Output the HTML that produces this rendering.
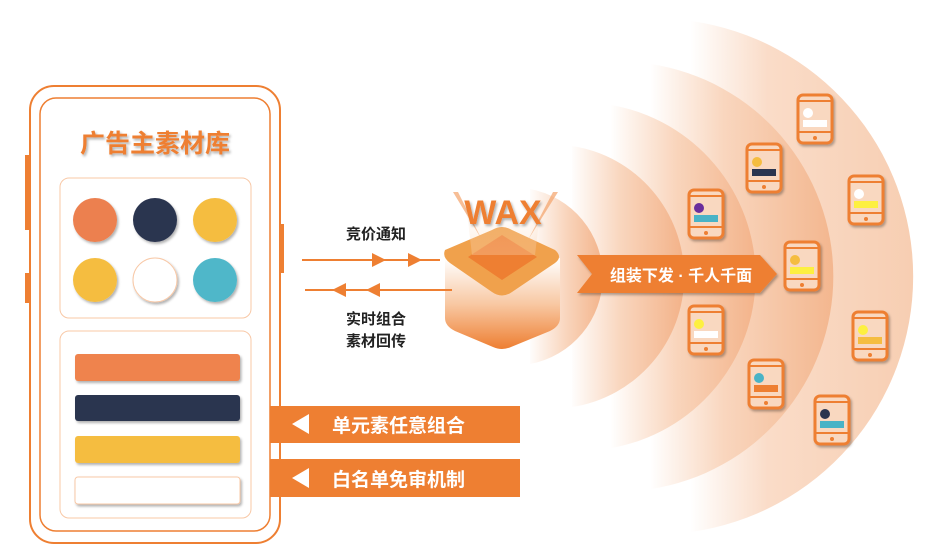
<!DOCTYPE html>
<html><head><meta charset="utf-8"><style>
html,body{margin:0;padding:0;background:#fff;}
svg{display:block;font-family:"Liberation Sans","Noto Sans CJK SC",sans-serif;}
</style></head><body>
<svg width="942" height="560" viewBox="0 0 942 560" xmlns="http://www.w3.org/2000/svg">
<defs>
<linearGradient id="g1" gradientUnits="userSpaceOnUse" x1="690" y1="0" x2="913" y2="0">
<stop offset="0" stop-color="#fff"/><stop offset="0.35" stop-color="#fadcc8"/><stop offset="1" stop-color="#f7ceb2"/></linearGradient>
<linearGradient id="g2" gradientUnits="userSpaceOnUse" x1="650" y1="0" x2="835" y2="0">
<stop offset="0" stop-color="#fff"/><stop offset="0.4" stop-color="#f9d6be"/><stop offset="1" stop-color="#f3b68e"/></linearGradient>
<linearGradient id="g3" gradientUnits="userSpaceOnUse" x1="610" y1="0" x2="757" y2="0">
<stop offset="0" stop-color="#fff"/><stop offset="0.45" stop-color="#f9d5bc"/><stop offset="1" stop-color="#f3b38a"/></linearGradient>
<linearGradient id="g4" gradientUnits="userSpaceOnUse" x1="570" y1="0" x2="682" y2="0">
<stop offset="0" stop-color="#fff"/><stop offset="0.45" stop-color="#f9d6be"/><stop offset="1" stop-color="#f3b38a"/></linearGradient>
<linearGradient id="g5" gradientUnits="userSpaceOnUse" x1="528" y1="0" x2="603" y2="0">
<stop offset="0" stop-color="#fff"/><stop offset="0.5" stop-color="#f9d6be"/><stop offset="1" stop-color="#f3b38a"/></linearGradient>
<linearGradient id="cube" x1="0" y1="0" x2="0" y2="1">
<stop offset="0" stop-color="#fff"/>
<stop offset="0.5" stop-color="#f8c9a4"/>
<stop offset="1" stop-color="#ee7f32"/>
</linearGradient>
<linearGradient id="beam" x1="0" y1="0" x2="0" y2="1">
<stop offset="0" stop-color="#fff" stop-opacity="0"/>
<stop offset="1" stop-color="#f7c79e" stop-opacity="0.8"/>
</linearGradient>
<filter id="sh" x="-20%" y="-20%" width="150%" height="150%"><feDropShadow dx="1.5" dy="2" stdDeviation="1.2" flood-color="#000" flood-opacity="0.3"/></filter>
<g id="ph">
<rect x="-17" y="-24" width="34" height="48" rx="5" fill="#f9d8c0" stroke="#ee7f32" stroke-width="3"/>
<line x1="-17" y1="-18" x2="17" y2="-18" stroke="#ee7f32" stroke-width="2"/>
<line x1="-17" y1="13" x2="17" y2="13" stroke="#ee7f32" stroke-width="2"/>
<circle cx="0" cy="19" r="2" fill="#ee7f32"/>
</g>
</defs>

<!-- wedges -->
<path d="M691 21 A258 258 0 0 1 691 532 Z" fill="url(#g1)"/>
<path d="M651 64 A215 215 0 0 1 651 489 Z" fill="url(#g2)"/>
<path d="M611 105 A174 174 0 0 1 611 448 Z" fill="url(#g3)"/>
<path d="M572 146 A132 132 0 0 1 572 407 Z" fill="url(#g4)"/>
<path d="M530 189 A89 89 0 0 1 530 364 Z" fill="url(#g5)"/>

<!-- phones -->
<g filter="url(#sh)">
<use href="#ph" x="815" y="119"/><circle cx="808" cy="113" r="5" fill="#fff"/><rect x="803" y="120" width="24" height="7" fill="#fff"/>
<use href="#ph" x="764" y="168"/><circle cx="757" cy="162" r="5" fill="#f5bd40"/><rect x="752" y="169" width="24" height="7" fill="#2c3450"/>
<use href="#ph" x="706" y="214"/><circle cx="699" cy="208" r="5" fill="#6b2f9c"/><rect x="694" y="215" width="24" height="7" fill="#4ab3c6"/>
<use href="#ph" x="866" y="200"/><circle cx="859" cy="194" r="5" fill="#fff"/><rect x="854" y="201" width="24" height="7" fill="#fdf040"/>
<use href="#ph" x="802" y="266"/><circle cx="795" cy="260" r="5" fill="#f5bd40"/><rect x="790" y="267" width="24" height="7" fill="#fdf040"/>
<use href="#ph" x="706" y="330"/><circle cx="699" cy="324" r="5" fill="#fdf040"/><rect x="694" y="331" width="24" height="7" fill="#fff"/>
<use href="#ph" x="870" y="336"/><circle cx="863" cy="330" r="5" fill="#fdf040"/><rect x="858" y="337" width="24" height="7" fill="#f5bd40"/>
<use href="#ph" x="766" y="384"/><circle cx="759" cy="378" r="5" fill="#4ab3c6"/><rect x="754" y="385" width="24" height="7" fill="#ee7f32"/>
<use href="#ph" x="832" y="420"/><circle cx="825" cy="414" r="5" fill="#2c3450"/><rect x="820" y="421" width="24" height="7" fill="#4ab3c6"/>
</g>

<!-- banner right -->
<polygon points="577,255 760,255 777,274 760,293 577,293 592,274" fill="#ee7f32" filter="url(#sh)"/>
<text x="681" y="281" font-size="16" font-weight="bold" fill="#fff" text-anchor="middle">组装下发 · 千人千面</text>

<!-- cube -->
<polygon points="453,192 458,192 482,240" fill="#f3a26a" opacity="0.7"/>
<polygon points="558,192 553,192 528,240" fill="#f3a26a" opacity="0.7"/>
<path d="M445 258 L445 318 Q445 326 455 331 L493 347 Q502 351 511 347 L550 331 Q560 326 560 318 L560 258 Z" fill="url(#cube)"/>
<path d="M445 250 Q442 257 450 263 L492 292 Q502 299 512 292 L555 263 Q563 257 555 250 L512 230 Q502 224 492 230 Z" fill="#f0a14c"/>
<polygon points="502,235 537,257 502,280 468,257" fill="#ee7f32"/>
<polygon points="465,195 542,195 535,255 472,255" fill="url(#beam)" opacity="0.5"/>
<text x="503" y="224" font-size="34" font-weight="bold" fill="#ee7f32" text-anchor="middle" filter="url(#sh)" font-family="Liberation Sans, sans-serif">WAX</text>

<!-- arrows between -->
<line x1="302" y1="260" x2="440" y2="260" stroke="#ee7f32" stroke-width="2"/>
<polygon points="372,253 386,260 372,267" fill="#ee7f32"/>
<polygon points="408,253 422,260 408,267" fill="#ee7f32"/>
<line x1="305" y1="290" x2="452" y2="290" stroke="#ee7f32" stroke-width="2"/>
<polygon points="346,283 332,290 346,297" fill="#ee7f32"/>
<polygon points="380,283 366,290 380,297" fill="#ee7f32"/>
<text x="376" y="239" font-size="15" fill="#222" text-anchor="middle" font-weight="bold">竞价通知</text>
<text x="376" y="324" font-size="15" fill="#222" text-anchor="middle" font-weight="bold">实时组合</text>
<text x="376" y="346" font-size="15" fill="#222" text-anchor="middle" font-weight="bold">素材回传</text>

<!-- left phone frame -->
<rect x="25" y="155" width="6" height="75" fill="#ee7f32"/>
<rect x="25" y="273" width="6" height="30" fill="#ee7f32"/>
<rect x="279" y="224" width="5" height="49" fill="#ee7f32"/>
<rect x="30" y="86" width="250" height="457" rx="24" fill="#fff" stroke="#ee7f32" stroke-width="2"/>
<rect x="40" y="98" width="230" height="433" rx="16" fill="#fff" stroke="#ee7f32" stroke-width="1.5"/>
<text x="155" y="152" font-size="25" font-weight="bold" fill="#ee7f32" text-anchor="middle" filter="url(#sh)">广告主素材库</text>
<rect x="60" y="178" width="191" height="140" rx="9" fill="#fff" stroke="#f8c8a6" stroke-width="1"/>
<g filter="url(#sh)">
<circle cx="95" cy="220" r="22" fill="#ec8050"/>
<circle cx="155" cy="220" r="22" fill="#2c3450"/>
<circle cx="215" cy="220" r="22" fill="#f5bd40"/>
<circle cx="95" cy="280" r="22" fill="#f5bd40"/>
<circle cx="155" cy="280" r="22" fill="#fff" stroke="#f8c8a6"/>
<circle cx="215" cy="280" r="22" fill="#4fb7c9"/>
</g>
<rect x="60" y="331" width="191" height="187" rx="9" fill="#fff" stroke="#f8c8a6" stroke-width="1"/>
<g filter="url(#sh)">
<rect x="75" y="354" width="165" height="27" rx="3" fill="#ef834e"/>
<rect x="75" y="395" width="165" height="26" rx="3" fill="#2c3450"/>
<rect x="75" y="436" width="165" height="27" rx="3" fill="#f5bd40"/>
<rect x="75" y="477" width="165" height="27" rx="3" fill="#fff" stroke="#f8c8a6"/>
</g>

<!-- left banners -->
<rect x="270" y="406" width="250" height="37" fill="#ee7f32"/>
<polygon points="292,424 309,414 309,434" fill="#fff"/>
<text x="332" y="432" font-size="19" font-weight="bold" fill="#fff">单元素任意组合</text>
<rect x="270" y="459" width="250" height="38" fill="#ee7f32"/>
<polygon points="292,478 309,468 309,488" fill="#fff"/>
<text x="332" y="486" font-size="19" font-weight="bold" fill="#fff">白名单免审机制</text>
</svg>
</body></html>
